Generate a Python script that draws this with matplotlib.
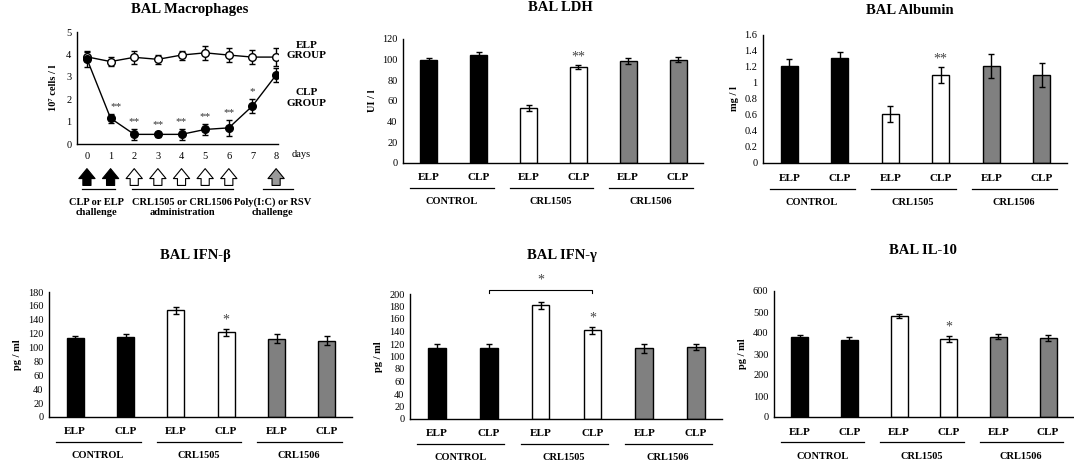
import numpy as np
import matplotlib.pyplot as plt
from matplotlib.lines import Line2D

plt.rcParams['font.family'] = ['Liberation Serif', 'DejaVu Serif']

# ---- data ----
days = [0, 1, 2, 3, 4, 5, 6, 7, 8]
elp_mac = [3.89, 3.68, 3.87, 3.78, 3.97, 4.07, 3.97, 3.88, 3.88]
elp_mac_err = [0.2, 0.2, 0.3, 0.2, 0.2, 0.3, 0.3, 0.3, 0.4]
clp_mac = [3.8, 1.15, 0.43, 0.43, 0.43, 0.65, 0.72, 1.7, 3.08]
clp_mac_err = [0.35, 0.2, 0.25, 0.1, 0.25, 0.25, 0.35, 0.3, 0.3]
clp_mac_sig = ['', '**', '**', '**', '**', '**', '**', '*', '']

bar_labels = ['ELP', 'CLP', 'ELP', 'CLP', 'ELP', 'CLP']
groups = ['CONTROL', 'CRL1505', 'CRL1506']
bar_colors = ['black', 'black', 'white', 'white', '#808080', '#808080']

ldh = [100, 105, 53.5, 92.5, 98.5, 100]
ldh_err = [1.5, 2, 3, 2, 3, 2.5]
ldh_sig = ['', '', '', '**', '', '']

alb = [1.21, 1.31, 0.61, 1.1, 1.21, 1.1]
alb_err = [0.09, 0.08, 0.1, 0.1, 0.15, 0.15]
alb_sig = ['', '', '', '**', '', '']

ifnb = [114, 115, 154, 122, 113, 110]
ifnb_err = [3, 4, 5, 5, 7, 7]
ifnb_sig = ['', '', '', '*', '', '']

ifng = [114, 113, 182, 142, 113, 115]
ifng_err = [6, 7, 6, 6, 7, 5]
ifng_sig = ['', '', '', '*', '', '']

il10 = [380, 369, 482, 372, 383, 376]
il10_err = [12, 12, 10, 15, 12, 14]
il10_sig = ['', '', '', '*', '', '']

W, H = 1074, 463
fig = plt.figure(figsize=(W / 100, H / 100), dpi=100)


def add_axes(l, r, t, b):
    return fig.add_axes([l / W, 1 - b / H, (r - l) / W, (b - t) / H])


def title(px, py, s):
    # px, py: centre x and baseline y in pixels
    fig.text(px / W, 1 - py / H, s, ha='center', va='baseline',
             fontsize=10.5, fontweight='bold')


def style(ax):
    for s in ['top', 'right']:
        ax.spines[s].set_visible(False)
    for s in ['left', 'bottom']:
        ax.spines[s].set_linewidth(1.0)
    ax.tick_params(axis='y', length=0, labelsize=7.5, pad=4)
    ax.tick_params(axis='x', length=0)


def bar_panel(ax, vals, errs, sig, ymax, ystep, ylabel, yfmt=None):
    x = np.arange(len(vals))
    ax.bar(x, vals, width=0.34, color=bar_colors, edgecolor='black',
           linewidth=1.0, zorder=2)
    ax.errorbar(x, vals, yerr=errs, fmt='none', ecolor='black',
                elinewidth=1.0, capsize=2.2, capthick=1.0, zorder=3)
    for xi, v, e, s in zip(x, vals, errs, sig):
        if s:
            ax.text(xi, v + e + ymax * 0.015, s, ha='center', va='bottom',
                    fontsize=10, color='#444444')
    ax.set_xlim(-0.52, 5.5)
    ax.set_ylim(0, ymax)
    ticks = np.arange(0, ymax + ystep / 2, ystep)
    ax.set_yticks(ticks)
    if yfmt:
        ax.set_yticklabels([yfmt(t) for t in ticks])
    ax.set_xticks([])
    style(ax)
    ax.set_ylabel(ylabel, fontsize=7.5, fontweight='bold', labelpad=4)
    tr = ax.get_xaxis_transform()
    for xi, lab in zip(x, bar_labels):
        ax.text(xi, -0.12, lab, transform=tr, ha='center', va='center',
                fontsize=8, fontweight='bold')
    for g, name in enumerate(groups):
        ax.add_line(Line2D([2 * g - 0.38, 2 * g + 1.3], [-0.2, -0.2],
                           transform=tr, color='black', lw=0.9,
                           clip_on=False))
        ax.text(2 * g + 0.45, -0.31, name, transform=tr, ha='center',
                va='center', fontsize=7.5, fontweight='bold')


# ---- BAL Macrophages ----
ax = add_axes(77, 278, 32, 144)
ax.errorbar(days, elp_mac, yerr=elp_mac_err, color='black', lw=1.0,
            marker='o', ms=5.5, mfc='white', mec='black', mew=1.0,
            capsize=2.2, elinewidth=1.0, zorder=3)
ax.errorbar(days, clp_mac, yerr=clp_mac_err, color='black', lw=1.0,
            marker='o', ms=5.5, mfc='black', mec='black',
            capsize=2.2, elinewidth=1.0, zorder=3)
for d, v, e, s in zip(days, clp_mac, clp_mac_err, clp_mac_sig):
    if s:
        dx = 0.25 if d == 1 else 0.0
        ax.text(d + dx, v + e + 0.12, s, ha='center', va='bottom',
                fontsize=8, color='#333333')
ax.set_xlim(-0.42, 8.08)
ax.set_ylim(0, 5)
ax.set_xticks(days)
ax.set_yticks(range(6))
style(ax)
ax.tick_params(axis='x', labelsize=7.5, pad=6)
ax.set_ylabel('10\u2077 cells / l', fontsize=7.5, fontweight='bold',
              labelpad=6)
ax.text(9.05, -0.09, 'days', transform=ax.get_xaxis_transform(),
        ha='center', va='center', fontsize=7.5)
ax.text(9.3, 4.17, 'ELP\nGROUP', ha='center', va='center', fontsize=8,
        fontweight='bold', linespacing=1.25)
ax.text(9.3, 2.05, 'CLP\nGROUP', ha='center', va='center', fontsize=8,
        fontweight='bold', linespacing=1.25)
title(190, 13, 'BAL Macrophages')

tr = ax.get_xaxis_transform()
arrow_days = [0, 1, 2, 3, 4, 5, 6, 8]
arrow_cols = ['black', 'black', 'white', 'white', 'white', 'white', 'white',
              '#9a9a9a']
for d, c in zip(arrow_days, arrow_cols):
    ax.annotate('', xy=(d, -0.22), xytext=(d, -0.37), xycoords=tr,
                textcoords=tr,
                arrowprops=dict(arrowstyle='simple,head_length=0.55,'
                                'head_width=0.9,tail_width=0.45',
                                fc=c, ec='black', lw=0.8,
                                mutation_scale=13, shrinkA=0, shrinkB=0))
for x0, x1 in [(-0.21, 1.19), (1.9, 6.19), (7.46, 8.73)]:
    ax.add_line(Line2D([x0, x1], [-0.4, -0.4], transform=tr, color='black',
                       lw=0.9, clip_on=False))
ax.text(0.42, -0.565, 'CLP or ELP\nchallenge', transform=tr, ha='center',
        va='center', fontsize=7.5, fontweight='bold', linespacing=1.1)
ax.text(4.03, -0.565, 'CRL1505 or CRL1506\nadministration', transform=tr,
        ha='center', va='center', fontsize=7.5, fontweight='bold',
        linespacing=1.1)
ax.text(7.84, -0.565, 'Poly(I:C) or RSV\nchallenge', transform=tr,
        ha='center', va='center', fontsize=7.5, fontweight='bold',
        linespacing=1.1)

# ---- bar panels ----
ax = add_axes(403, 703, 39, 163)
bar_panel(ax, ldh, ldh_err, ldh_sig, 120, 20, 'UI / l')
title(560, 11, 'BAL LDH')

ax = add_axes(763, 1067, 35, 163)
bar_panel(ax, alb, alb_err, alb_sig, 1.6, 0.2, 'mg / l',
          yfmt=lambda t: '%g' % round(t, 1))
title(910, 14, 'BAL Albumin')

ax = add_axes(49, 352, 292, 417)
bar_panel(ax, ifnb, ifnb_err, ifnb_sig, 180, 20, 'pg / ml')
title(195, 259, 'BAL IFN-\u03b2')

ax = add_axes(410, 722, 294, 419)
bar_panel(ax, ifng, ifng_err, ifng_sig, 200, 20, 'pg / ml')
title(562, 259, 'BAL IFN-\u03b3')
tr = ax.get_xaxis_transform()
ax.add_line(Line2D([1, 1, 3, 3], [1.005, 1.035, 1.035, 1.005], transform=tr,
                   color='black', lw=0.8, clip_on=False))
ax.text(2, 1.06, '*', transform=tr, ha='center', va='bottom', fontsize=10,
        color='#444444')

ax = add_axes(774, 1073, 291, 417)
bar_panel(ax, il10, il10_err, il10_sig, 600, 100, 'pg / ml')
title(923, 254, 'BAL IL-10')

fig.savefig('out.png', dpi=100)
